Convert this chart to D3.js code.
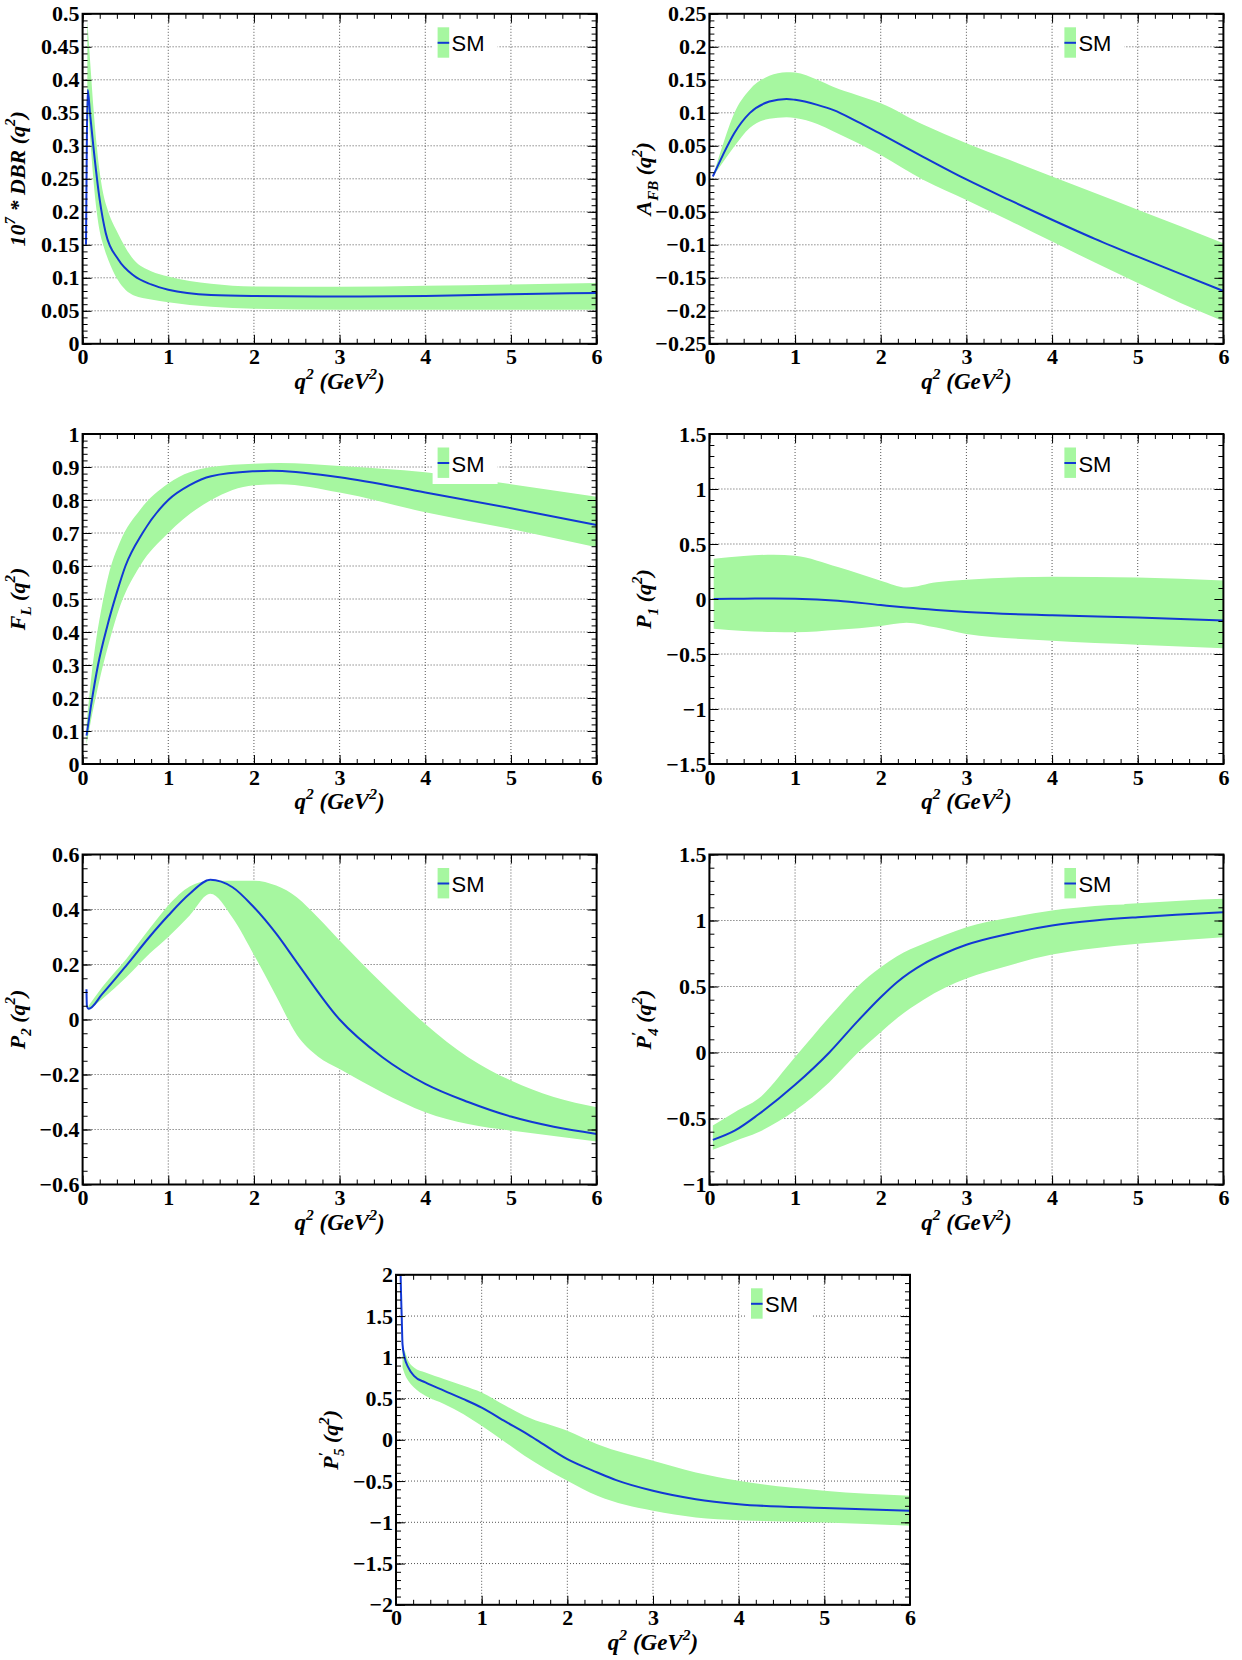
<!DOCTYPE html>
<html>
<head>
<meta charset="utf-8">
<script src="https://cdn.jsdelivr.net/npm/d3@7"></script>
<style>
body { margin:0; background:#fff; }
</style>
</head>
<body>
<div id="fig"></div>
<script>
// ---- data ----
const xTicks = [0,1,2,3,4,5,6];

// 10^7 * DBR
const dbrMidX  = [0.04,0.06,0.086,0.125,0.2,0.27,0.415,0.6,0.8,1.0,1.5,2,3,4,5,6];
const dbrMid   = [0.15,0.385,0.35,0.3,0.218,0.168,0.128,0.103,0.09,0.082,0.074,0.0725,0.0717,0.0725,0.075,0.077];
const dbrBandX = [0.055,0.095,0.125,0.165,0.2,0.24,0.3,0.41,0.6,0.8,1.0,1.5,2,3,4,5,6];
const dbrHi    = [0.49,0.415,0.36,0.3,0.26,0.228,0.2,0.168,0.127,0.11,0.102,0.091,0.087,0.0865,0.088,0.09,0.092];
const dbrLo    = [0.37,0.3,0.25,0.2,0.17,0.15,0.127,0.097,0.073,0.067,0.063,0.056,0.053,0.0515,0.0515,0.0515,0.0515];
const dbrTicks = [0,0.05,0.1,0.15,0.2,0.25,0.3,0.35,0.4,0.45,0.5];

// A_FB
const afbX   = [0.04,0.15,0.29,0.47,0.7,0.9,1.0,1.26,1.45,1.72,2.0,2.5,3.0,3.5,4.0,4.5,5.0,5.5,6.0];
const afbMid = [0.0035,0.034,0.069,0.0995,0.117,0.121,0.1197,0.112,0.104,0.087,0.068,0.033,-0.001,-0.032,-0.062,-0.091,-0.118,-0.144,-0.17];
const afbHi  = [0.0035,0.049,0.0995,0.135,0.156,0.1616,0.161,0.15,0.139,0.127,0.1146,0.0818,0.054,0.0288,0.0035,-0.0217,-0.047,-0.072,-0.0975];
const afbLo  = [0.0035,0.0237,0.049,0.077,0.091,0.0934,0.092,0.083,0.0717,0.055,0.036,-0.002,-0.032,-0.063,-0.095,-0.127,-0.158,-0.188,-0.216];
const afbTicks = [-0.25,-0.2,-0.15,-0.1,-0.05,0,0.05,0.1,0.15,0.2,0.25];

// F_L
const flMidX  = [0.046,0.1,0.18,0.29,0.4,0.5,0.7,1.0,1.25,1.5,2.0,2.2,3,4,5,6];
const flMid   = [0.086,0.18,0.3,0.42,0.52,0.6,0.7,0.8,0.845,0.872,0.887,0.889,0.869,0.823,0.775,0.724];
const flBandX = [0.046,0.1,0.16,0.23,0.3,0.44,0.67,1.0,1.5,2.0,2.3,3,4,5,6];
const flHi    = [0.12,0.26,0.38,0.485,0.57,0.675,0.77,0.85,0.9,0.91,0.912,0.903,0.884,0.848,0.81];
const flLo    = [0.06,0.135,0.21,0.29,0.36,0.48,0.6,0.7,0.8,0.845,0.848,0.823,0.763,0.712,0.657];
const flTicks = [0,0.1,0.2,0.3,0.4,0.5,0.6,0.7,0.8,0.9,1];

// P_1
const p1X   = [0.05,0.4,0.75,1.0,1.5,2.0,2.3,2.65,3,4,5,6];
const p1Mid = [0,0.003,0.005,0.003,-0.015,-0.055,-0.078,-0.1,-0.118,-0.148,-0.168,-0.195];
const p1Hi  = [0.365,0.39,0.403,0.394,0.29,0.167,0.105,0.152,0.176,0.203,0.195,0.168];
const p1Lo  = [-0.27,-0.29,-0.3,-0.303,-0.28,-0.245,-0.215,-0.26,-0.318,-0.379,-0.415,-0.448];
const p1Ticks = [-1.5,-1,-0.5,0,0.5,1,1.5];

// P_2
const p2MidX  = [0.045,0.05,0.07,0.23,0.51,0.78,1.0,1.25,1.49,1.75,2.0,2.26,2.5,3.0,3.5,4,4.5,5,5.5,6];
const p2Mid   = [0.11,0.05,0.039,0.093,0.196,0.3,0.378,0.457,0.508,0.481,0.408,0.312,0.208,0,-0.137,-0.234,-0.3,-0.353,-0.39,-0.416];
const p2BandX = [0.07,0.23,0.51,0.78,1.0,1.25,1.49,1.75,2.0,2.26,2.5,2.75,3.0,3.5,4,4.5,5,5.5,6];
const p2Hi    = [0.05,0.118,0.22,0.33,0.415,0.484,0.505,0.505,0.505,0.487,0.445,0.37,0.287,0.13,-0.016,-0.137,-0.222,-0.282,-0.319];
const p2Lo    = [0.033,0.075,0.154,0.239,0.3,0.378,0.457,0.37,0.235,0.085,-0.055,-0.135,-0.18,-0.265,-0.337,-0.38,-0.404,-0.424,-0.444];
const p2Ticks = [-0.6,-0.4,-0.2,0,0.2,0.4,0.6];

// P'_4
const p4X   = [0.04,0.3,0.57,1.0,1.4,1.72,2.0,2.19,2.5,2.75,3.0,3.5,4.0,4.5,5.0,5.5,6.0];
const p4Mid = [-0.662,-0.59,-0.47,-0.245,0,0.23,0.419,0.533,0.672,0.752,0.816,0.9,0.962,1.0,1.025,1.045,1.063];
const p4Hi  = [-0.553,-0.45,-0.351,-0.035,0.268,0.495,0.646,0.73,0.823,0.89,0.949,1.02,1.076,1.11,1.131,1.15,1.164];
const p4Lo  = [-0.737,-0.67,-0.604,-0.44,-0.225,-0.01,0.154,0.26,0.4,0.49,0.56,0.66,0.742,0.79,0.823,0.85,0.874];
const p4Ticks = [-1,-0.5,0,0.5,1,1.5];

// P'_5
const p5MidX  = [0.052,0.058,0.067,0.076,0.1,0.143,0.21,0.343,0.566,0.789,1.0,1.28,1.5,1.64,2.0,2.35,2.57,3.0,3.5,4.0,5.0,6.0];
const p5Mid   = [2.1,1.8,1.48,1.16,1.0,0.877,0.776,0.695,0.594,0.493,0.39,0.22,0.09,0,-0.235,-0.396,-0.489,-0.618,-0.72,-0.78,-0.828,-0.861];
const p5BandX = [0.076,0.1,0.143,0.21,0.343,0.566,0.789,1.0,1.28,1.5,2.0,2.35,3.0,3.5,4.0,5.0,6.0];
const p5Hi    = [1.12,1.08,0.957,0.877,0.816,0.735,0.655,0.574,0.412,0.291,0.109,-0.053,-0.255,-0.396,-0.497,-0.618,-0.679];
const p5Lo    = [0.877,0.8,0.715,0.634,0.533,0.432,0.311,0.17,-0.032,-0.194,-0.497,-0.679,-0.861,-0.941,-0.974,-1.002,-1.042];
const p5Ticks = [-2,-1.5,-1,-0.5,0,0.5,1,1.5,2];

// ---- drawing ----
Array.prototype.back = function() { return this[this.length-1]; };

const W = 514, H = 330;
const BAND = "#a6f7a0", LINE = "#1238d4";
const SERIF = "Liberation Serif, Times New Roman, serif";

const svg = d3.select("#fig").append("svg")
  .attr("width",1242).attr("height",1660)
  .style("background","#fff");

function fmt(d) {
  if (Math.abs(d) < 1e-9) return "0";
  return (d < 0 ? "\u2212" : "") + String(+Math.abs(d).toFixed(2));
}

// parts: [text, "n"|"sup"|"sub", dx]
function rich(t, parts, fs) {
  let shift = 0;
  parts.forEach(([s,k,dx]) => {
    const to = k === "sup" ? -0.42*fs : k === "sub" ? 0.28*fs : 0;
    const ts = t.append("tspan").text(s)
      .attr("dy", to - shift)
      .attr("font-size", k === "n" ? fs : 0.68*fs);
    if (dx) ts.attr("dx", dx);
    shift = to;
  });
}

function Panel(p) {
  const g = svg.append("g").attr("transform",`translate(${p.left},${p.top})`);
  const x = d3.scaleLinear().domain([0,6]).range([0,W]);
  const y = d3.scaleLinear().domain([p.ticks[0], p.ticks.back()]).range([H,0]);

  const cid = "clip-" + p.name;
  g.append("clipPath").attr("id",cid)
    .append("rect").attr("width",W).attr("height",H);

  // dotted grid at major ticks
  const grid = g.append("g").attr("stroke","#555").attr("stroke-width",1)
    .attr("stroke-dasharray","1,2");
  grid.selectAll("line.v").data(xTicks.slice(1,-1)).join("line").attr("class","v")
    .attr("x1",d=>x(d)).attr("x2",d=>x(d)).attr("y1",0).attr("y2",H);
  grid.selectAll("line.h").data(p.ticks.slice(1,-1)).join("line").attr("class","h")
    .attr("x1",0).attr("x2",W).attr("y1",d=>y(d)).attr("y2",d=>y(d));

  // band + central curve
  const band = p.bandX.map((v,i) => ({x:v, lo:p.lo[i], hi:p.hi[i]}));
  const mid = p.midX.map((v,i) => ({x:v, y:p.mid[i]}));
  const plot = g.append("g").attr("clip-path",`url(#${cid})`);
  plot.append("path").datum(band)
    .attr("fill",BAND)
    .attr("d", d3.area().curve(d3.curveMonotoneX)
      .x(d=>x(d.x)).y0(d=>y(d.lo)).y1(d=>y(d.hi)));
  plot.append("path").datum(mid)
    .attr("fill","none").attr("stroke",LINE).attr("stroke-width",2)
    .attr("d", d3.line().curve(d3.curveMonotoneX).x(d=>x(d.x)).y(d=>y(d.y)));

  // legend (white box covers what is behind it)
  const lg = g.append("g");
  lg.append("rect").attr("x",350).attr("y",6).attr("width",65).attr("height",44).attr("fill","#fff");
  lg.append("rect").attr("x",355).attr("y",13.5).attr("width",11.6).attr("height",30.4).attr("fill",BAND);
  lg.append("line").attr("x1",355).attr("x2",366.6).attr("y1",29).attr("y2",29)
    .attr("stroke",LINE).attr("stroke-width",2);
  lg.append("text").attr("x",369).attr("y",37.5)
    .attr("font-family","Liberation Sans, Arial, sans-serif").attr("font-size",22)
    .text("SM");

  // ticks on all four sides, pointing inward
  const xMinor = d3.range(0,6.0001,0.2);
  const yMinor = d3.range(p.ticks[0], p.ticks.back()+1e-6, p.minor);
  const axes = [
    [d3.axisBottom, x, xTicks, xMinor, `translate(0,${H})`, true, true],
    [d3.axisTop,    x, xTicks, xMinor, "translate(0,0)", false, true],
    [d3.axisLeft,   y, p.ticks, yMinor, "translate(0,0)", true, false],
    [d3.axisRight,  y, p.ticks, yMinor, `translate(${W},0)`, false, false]
  ];
  axes.forEach(([ax,s,maj,mnr,tr,lab,horiz]) => {
    g.append("g").attr("transform",tr)
      .call(ax(s).tickValues(mnr).tickSize(-5).tickSizeOuter(0).tickFormat(""))
      .call(a => a.select(".domain").remove())
      .selectAll("line").attr("stroke","#000");
    g.append("g").attr("transform",tr)
      .call(ax(s).tickValues(maj).tickSize(-9).tickSizeOuter(0)
        .tickPadding(horiz ? 5 : 3).tickFormat(lab ? fmt : ""))
      .call(a => a.select(".domain").remove())
      .call(a => a.selectAll("line").attr("stroke","#000"))
      .selectAll("text")
        .attr("font-family",SERIF).attr("font-size",22).attr("font-weight","bold")
        .attr("fill","#000");
  });

  g.append("rect").attr("width",W).attr("height",H)
    .attr("fill","none").attr("stroke","#000").attr("stroke-width",2);

  // axis titles
  const xt = g.append("text").attr("x",W/2).attr("y",H+45)
    .attr("text-anchor","middle").attr("font-family",SERIF)
    .attr("font-weight","bold").attr("font-style","italic");
  rich(xt, [["q","n"],["2","sup"],[" (GeV","n"],["2","sup"],[")","n"]], 23);

  const yt = g.append("text")
    .attr("transform",`translate(${-58},${H/2}) rotate(-90)`)
    .attr("text-anchor","middle").attr("font-family",SERIF)
    .attr("font-weight","bold").attr("font-style","italic");
  rich(yt, p.title, 22);
}

const panels = [
  { name:"dbr", left:82.6, top:13.8, ticks:dbrTicks, minor:0.01,
    midX:dbrMidX, mid:dbrMid, bandX:dbrBandX, hi:dbrHi, lo:dbrLo,
    title:[["10","n"],["7","sup"],[" * DBR (q","n"],["2","sup"],[")","n"]] },
  { name:"afb", left:709.4, top:13.8, ticks:afbTicks, minor:0.01,
    midX:afbX, mid:afbMid, bandX:afbX, hi:afbHi, lo:afbLo,
    title:[["A","n"],["FB","sub"],[" (q","n"],["2","sup"],[")","n"]] },
  { name:"fl", left:82.6, top:434, ticks:flTicks, minor:0.02,
    midX:flMidX, mid:flMid, bandX:flBandX, hi:flHi, lo:flLo,
    title:[["F","n"],["L","sub"],[" (q","n"],["2","sup"],[")","n"]] },
  { name:"p1", left:709.4, top:434, ticks:p1Ticks, minor:0.1,
    midX:p1X, mid:p1Mid, bandX:p1X, hi:p1Hi, lo:p1Lo,
    title:[["P","n"],["1","sub"],[" (q","n"],["2","sup"],[")","n"]] },
  { name:"p2", left:82.6, top:854.5, ticks:p2Ticks, minor:0.05,
    midX:p2MidX, mid:p2Mid, bandX:p2BandX, hi:p2Hi, lo:p2Lo,
    title:[["P","n"],["2","sub"],[" (q","n"],["2","sup"],[")","n"]] },
  { name:"p4", left:709.4, top:854.5, ticks:p4Ticks, minor:0.1,
    midX:p4X, mid:p4Mid, bandX:p4X, hi:p4Hi, lo:p4Lo,
    title:[["P","n"],["\u2032","sup"],["4","sub",-4],[" (q","n"],["2","sup"],[")","n"]] },
  { name:"p5", left:396, top:1274.8, ticks:p5Ticks, minor:0.1,
    midX:p5MidX, mid:p5Mid, bandX:p5BandX, hi:p5Hi, lo:p5Lo,
    title:[["P","n"],["\u2032","sup"],["5","sub",-4],[" (q","n"],["2","sup"],[")","n"]] }
];

panels.forEach(Panel);
</script>
</body>
</html>
